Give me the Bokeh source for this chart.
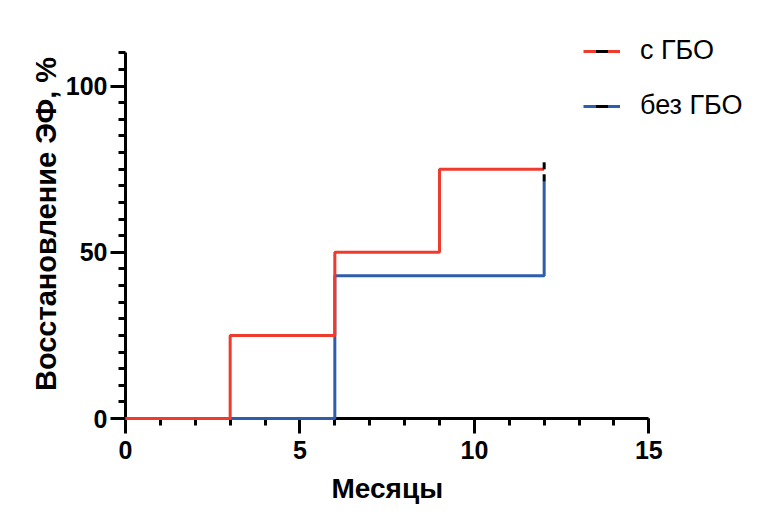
from bokeh.plotting import figure
from bokeh.models import FixedTicker, Range1d, Legend, LegendItem, Title
from bokeh.embed import file_html
from bokeh.resources import INLINE
import math

# Data
months_with = [0, 3, 6, 9, 12]
recovery_with = [0, 25, 50, 75, 75]
months_without = [0, 6, 12]
recovery_without = [0, 42.9, 71.4]
censor_x_with = [12]
censor_y_with = [75]
censor_x_without = [12]
censor_y_without = [71.4]
labels = ["с ГБО", "без ГБО"]
x_major = [0, 5, 10, 15]
y_major = [0, 50, 100]
x_title = "Месяцы"
y_title = "Восстановление ЭФ, %"

RED = "#EE3B2E"
BLUE = "#2F5DAD"
FONT = "Liberation Sans"

p = figure(width=756, height=522, output_backend="svg", toolbar_location=None,
           x_range=Range1d(0, 18), y_range=Range1d(0, 117),
           min_border_left=125, min_border_right=3, min_border_top=29, min_border_bottom=104)
p.outline_line_color = None
p.xgrid.visible = False
p.ygrid.visible = False

TICK_UP = 1.0  # censor mark offset (units), style only
blue_r = p.step(months_without, recovery_without, mode="after", line_color=BLUE, line_width=3, level="overlay")
red_r = p.step(months_with, recovery_with, mode="after", line_color=RED, line_width=3, level="overlay")
c_red = p.scatter(censor_x_with, [y + TICK_UP for y in censor_y_with], marker="dash",
                  angle=math.pi / 2, size=7, line_color="black", line_width=3, level="overlay")
c_blue = p.scatter(censor_x_without, [y + TICK_UP for y in censor_y_without], marker="dash",
                   angle=math.pi / 2, size=7, line_color="black", line_width=3, level="overlay")

for ax in (p.xaxis[0], p.yaxis[0]):
    ax.axis_line_width = 3
    ax.axis_line_color = "black"
    ax.major_tick_line_width = 3
    ax.minor_tick_line_width = 3
    ax.major_tick_out = 15
    ax.major_tick_in = 0
    ax.minor_tick_out = 7
    ax.minor_tick_in = 0
    ax.major_label_text_font = FONT
    ax.major_label_text_font_style = "bold"
    ax.major_label_text_font_size = "25px"
    ax.major_label_text_color = "black"
    ax.axis_label_text_font = FONT
    ax.axis_label_text_font_style = "bold"
    ax.axis_label_text_font_size = "29px"
    ax.axis_label_text_color = "black"

p.xaxis.bounds = (0, 15)
p.yaxis.bounds = (0, 110)
p.xaxis.ticker = FixedTicker(ticks=x_major, minor_ticks=list(range(0, 16)))
p.yaxis.ticker = FixedTicker(ticks=y_major, minor_ticks=list(range(0, 111, 5)))
p.yaxis.axis_label = y_title
p.xaxis.major_label_standoff = 7
p.yaxis.major_label_standoff = 3
p.yaxis.axis_label_standoff = 1

xt = Title(text=x_title, align="left", offset=206, standoff=18,
           text_font=FONT, text_font_style="bold", text_font_size="28px", text_color="black")
p.add_layout(xt, "below")

legend = Legend(items=[LegendItem(label=labels[0], renderers=[red_r, c_red]),
                       LegendItem(label=labels[1], renderers=[blue_r, c_blue])],
                location=(458, 297), padding=0, margin=0, spacing=24,
                glyph_width=37, glyph_height=30, label_height=30, label_standoff=20,
                label_text_font=FONT, label_text_font_size="27px", label_text_color="black",
                border_line_color=None, background_fill_alpha=0)
p.add_layout(legend, "center")

open("out.html", "w").write(file_html(p, INLINE))
